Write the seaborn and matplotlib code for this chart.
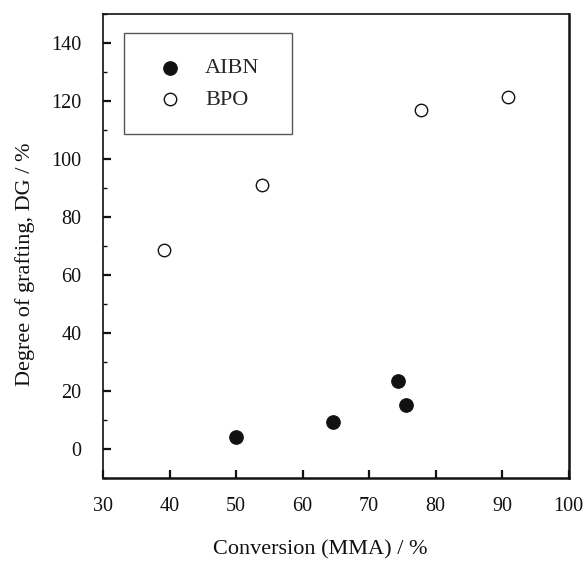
import matplotlib
matplotlib.use("Agg")
import matplotlib.pyplot as plt
from matplotlib.ticker import MultipleLocator
import seaborn as sns
import pandas as pd

# Conversion of MMA (%) and degree of grafting (%) for each initiator
aibn_conversion = [50.0, 64.5, 74.4, 75.6]
aibn_grafting = [4.2, 9.3, 23.4, 15.2]
bpo_conversion = [39.2, 53.9, 77.8, 90.9]
bpo_grafting = [68.6, 91.0, 117.0, 121.5]

x_ticks = [30, 40, 50, 60, 70, 80, 90, 100]
y_ticks = [0, 20, 40, 60, 80, 100, 120, 140]

sns.set_theme(style="ticks")
plt.rcParams["font.family"] = ["Liberation Serif", "DejaVu Serif"]

aibn = pd.DataFrame({"conv": aibn_conversion, "dg": aibn_grafting})
bpo = pd.DataFrame({"conv": bpo_conversion, "dg": bpo_grafting})

fig = plt.figure(figsize=(5.84, 5.63), dpi=100)
ax = fig.add_axes([0.1764, 0.1504, 0.7974, 0.8247])

sns.scatterplot(data=aibn, x="conv", y="dg", ax=ax, s=95, color="#111111",
                edgecolor="#111111", linewidth=0.8, label="AIBN", zorder=3)
sns.scatterplot(data=bpo, x="conv", y="dg", ax=ax, s=80, facecolor="white",
                edgecolor="#111111", linewidth=1.0, label="BPO", zorder=3)

ax.set_xlim(30, 100)
ax.set_ylim(-10, 150)
ax.set_xticks(x_ticks)
ax.set_yticks(y_ticks)
ax.yaxis.set_minor_locator(MultipleLocator(10))

ax.tick_params(axis="both", which="major", direction="in", length=6, width=1.6,
               labelsize=14.5, colors="#111111")
ax.tick_params(axis="y", which="major", pad=15.5)
ax.tick_params(axis="x", which="major", pad=13.5)
ax.tick_params(axis="y", which="minor", direction="in", length=3, width=1.0,
               colors="#111111")

for name, sp in ax.spines.items():
    sp.set_visible(True)
    sp.set_color("#111111")
    sp.set_linewidth(1.8 if name in ("bottom", "right") else 1.2)

ax.set_xlabel("Conversion (MMA) / %", fontsize=16, color="#111111")
ax.set_ylabel("Degree of grafting, DG / %", fontsize=16, color="#111111")
ax.xaxis.set_label_coords(0.467, -0.133)
ax.yaxis.set_label_coords(-0.146, 0.4605)

leg = ax.legend(loc="upper left", bbox_to_anchor=(0.0451, 0.5, 0.360, 0.4584),
                mode="expand", fontsize=16, frameon=True, fancybox=False,
                borderpad=1.1, labelspacing=0.5, handlelength=1.95,
                handletextpad=0.6, borderaxespad=0.0)
frame = leg.get_frame()
frame.set_edgecolor("#555555")
frame.set_linewidth(1.0)
frame.set_alpha(1.0)

fig.savefig("out.png", dpi=100, facecolor="white")
